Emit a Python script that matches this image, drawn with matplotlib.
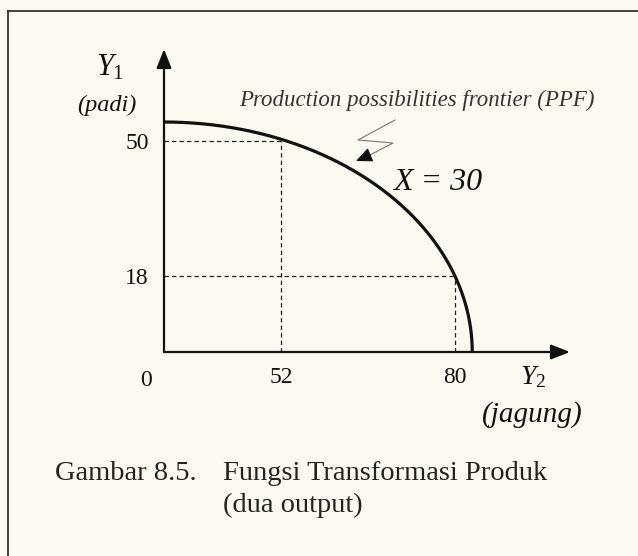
import matplotlib
matplotlib.use('Agg')
import matplotlib.pyplot as plt
from matplotlib.scale import FuncScale
from matplotlib.lines import Line2D
import numpy as np

# angka yang terbaca dari gambar
y1_ticks = [50, 18]          # padi
y2_ticks = [52, 80]          # jagung
y1_max = 54.5                # PPF memotong sumbu Y1
y2_max = 83                  # PPF memotong sumbu Y2
ppf_text = "Production possibilities frontier (PPF)"
curve_text = "X = 30"
caption_no = "Gambar 8.5."
caption_1 = "Fungsi Transformasi Produk"
caption_2 = "(dua output)"

# sumbu Y2 tidak berskala di gambar aslinya: 52 dekat 0, 80 jauh
x_knots = [-100, 0, 52, 80, 100, 200]
x_pos = [-225, 0, 117, 291, 406, 981]

def fwd(x):
    return np.interp(x, x_knots, x_pos)

def inv(p):
    return np.interp(p, x_pos, x_knots)

W, H = 638, 556
def fx(px):
    return px / W
def fy(py):
    return 1 - py / H

plt.rcParams['font.family'] = 'Liberation Serif'
plt.rcParams['mathtext.fontset'] = 'custom'
plt.rcParams['mathtext.rm'] = 'Liberation Serif'
plt.rcParams['mathtext.it'] = 'Liberation Serif:italic'

bg = '#fbf9f0'
ink = '#111111'

fig = plt.figure(figsize=(6.38, 5.56), dpi=100, facecolor=bg)
ax = fig.add_axes([fx(164), fy(352), 406 / W, 303 / H])
ax.set_facecolor('none')
ax.set_xscale(FuncScale(ax.xaxis, (fwd, inv)))
ax.set_xlim(0, 100)
ax.set_ylim(0, 303 / 4.22)
for s in ax.spines.values():
    s.set_visible(False)

# sumbu dengan panah
ytop = ax.get_ylim()[1]
arrow = dict(arrowstyle='-|>,head_length=1.15,head_width=0.45', mutation_scale=10,
             lw=1.6, color=ink, shrinkA=0, shrinkB=0)
ax.annotate('', xy=(100, 0), xytext=(0, 0), arrowprops=arrow, annotation_clip=False)
ax.annotate('', xy=(0, ytop), xytext=(0, 0), arrowprops=arrow, annotation_clip=False)

# kurva PPF (seperempat elips pada tampilan)
t = np.linspace(0, np.pi / 2, 300)
L = fwd(y2_max)
curve_x = inv(L * np.sin(t))
curve_y = y1_max * np.cos(t)
ax.plot(curve_x, curve_y, color=ink, lw=2.3, solid_capstyle='butt', clip_on=False)

# garis putus-putus
for y2, y1 in zip(y2_ticks, y1_ticks):
    ax.plot([0, y2], [y1, y1], color='#222222', lw=0.9, ls=(0, (3.5, 2.5)))
    ax.plot([y2, y2], [0, y1], color='#222222', lw=0.9, ls=(0, (3.5, 2.5)))

ax.set_xticks(y2_ticks)
ax.set_xticklabels([str(v) for v in y2_ticks])
ax.set_yticks(y1_ticks)
ax.set_yticklabels([str(v) for v in y1_ticks])
ax.tick_params(length=0, labelsize=17, colors=ink)
ax.tick_params(axis='x', pad=11)
ax.tick_params(axis='y', pad=11)
ax.annotate('0', xy=(0, 0), xytext=(-18, -28), textcoords='offset pixels',
            ha='center', va='center', fontsize=17, color=ink)

# panah zigzag ke kurva
zz_x = inv(np.array([395, 358, 393, 370]) - 164)
zz_y = (352 - np.array([120, 140, 143, 155])) / 4.22
ax.plot(zz_x, zz_y, color='#777777', lw=0.8, clip_on=False)
ax.annotate('', xy=(inv(192), (352 - 161) / 4.22), xytext=(zz_x[-1], zz_y[-1]),
            arrowprops=dict(arrowstyle='-|>,head_length=1.0,head_width=0.45',
                            mutation_scale=10, lw=0.8, color=ink, shrinkA=0, shrinkB=0))

# teks
fig.text(fx(110), fy(68), r'$Y_{\mathit{1}}$', fontsize=22, ha='center', va='center', color=ink)
fig.text(fx(107), fy(105), '(padi)', fontsize=17.5, style='italic', ha='center', va='center', color=ink)
fig.text(fx(417), fy(100), ppf_text, fontsize=16.5, style='italic', ha='center', va='center', color='#333333')
fig.text(fx(438), fy(183), curve_text, fontsize=23, style='italic', ha='center', va='center', color=ink)
fig.text(fx(533), fy(377), r'$Y_{\mathit{2}}$', fontsize=20, ha='center', va='center', color=ink)
fig.text(fx(532), fy(415), '(jagung)', fontsize=21, style='italic', ha='center', va='center', color=ink)
fig.text(fx(55), fy(474), caption_no, fontsize=20.5, ha='left', va='center', color='#222222')
fig.text(fx(223), fy(474), caption_1, fontsize=20.5, ha='left', va='center', color='#222222')
fig.text(fx(223), fy(505), caption_2, fontsize=20.5, ha='left', va='center', color='#222222')

# bingkai halaman
fig.add_artist(Line2D([fx(8), 1], [fy(11), fy(11)], color='#333333', lw=1.3))
fig.add_artist(Line2D([fx(8), fx(8)], [0, fy(11)], color='#333333', lw=1.3))

fig.savefig('out.png', dpi=100, facecolor=bg)
